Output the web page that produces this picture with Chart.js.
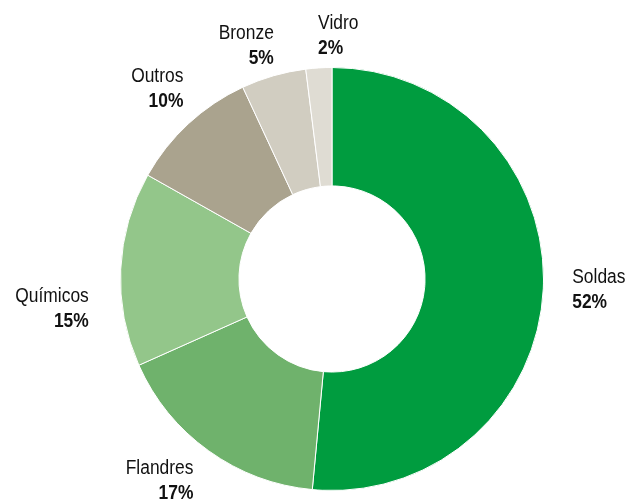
<!DOCTYPE html>
<html>
<head>
<meta charset="utf-8">
<script src="https://cdn.jsdelivr.net/npm/chart.js@4/dist/chart.umd.min.js"></script>
<style>
  html, body { margin: 0; padding: 0; background: #fff; }
  #wrap { width: 630px; height: 503px; }
</style>
</head>
<body>
<div id="wrap"><canvas id="donut" width="630" height="503"></canvas></div>
<script>
// data
const categories = ['Soldas', 'Flandres', 'Químicos', 'Outros', 'Bronze', 'Vidro'];
const shares = [52, 17, 15, 10, 5, 2];
const shareLabels = ['52%', '17%', '15%', '10%', '5%', '2%'];

const sliceColors = ['#009c3f', '#6fb26c', '#93c68a', '#aaa38e', '#d1cdc1', '#dfdcd3'];

// small nudges from the geometric anchor so labels sit like the original
const labelNudge = [[1, 0], [1, 7], [-4, 41], [14, -14], [8, -3], [1, -4]];
const labelAlign = ['left', 'right', 'right', 'right', 'right', 'left'];

// no narrow font installed, so squeeze a regular sans horizontally
const FONT = '"Liberation Sans", Arial, sans-serif';
const SQUEEZE = 0.87;

// draws name + bold percentage outside each slice
const outsideLabels = {
  id: 'outsideLabels',
  afterDatasetsDraw(chart) {
    const ctx = chart.ctx;
    const meta = chart.getDatasetMeta(0);
    meta.data.forEach((arc, i) => {
      const p = arc.getProps(['x', 'y', 'startAngle', 'endAngle', 'outerRadius'], true);
      const mid = (p.startAngle + p.endAngle) / 2;
      const r = p.outerRadius + 28;
      const x = p.x + Math.cos(mid) * r + labelNudge[i][0];
      const y = p.y + Math.sin(mid) * r + labelNudge[i][1];
      ctx.save();
      ctx.translate(x, y);
      ctx.scale(SQUEEZE, 1);
      ctx.fillStyle = '#111';
      ctx.textBaseline = 'middle';
      ctx.textAlign = labelAlign[i];
      ctx.font = '20px ' + FONT;
      ctx.fillText(categories[i], 0, -12.5);
      ctx.font = 'bold 20px ' + FONT;
      ctx.fillText(shareLabels[i], 0, 12.5);
      ctx.restore();
    });
  }
};

new Chart(document.getElementById('donut'), {
  type: 'doughnut',
  data: {
    labels: categories,
    datasets: [{
      data: shares,
      backgroundColor: sliceColors,
      borderColor: '#ffffff',
      borderWidth: 1
    }]
  },
  options: {
    responsive: false,
    animation: false,
    cutout: '44%',
    layout: { padding: { top: 67, bottom: 12, left: 120, right: 86 } },
    plugins: {
      legend: { display: false },
      tooltip: { enabled: false }
    }
  },
  plugins: [outsideLabels]
});
</script>
</body>
</html>
